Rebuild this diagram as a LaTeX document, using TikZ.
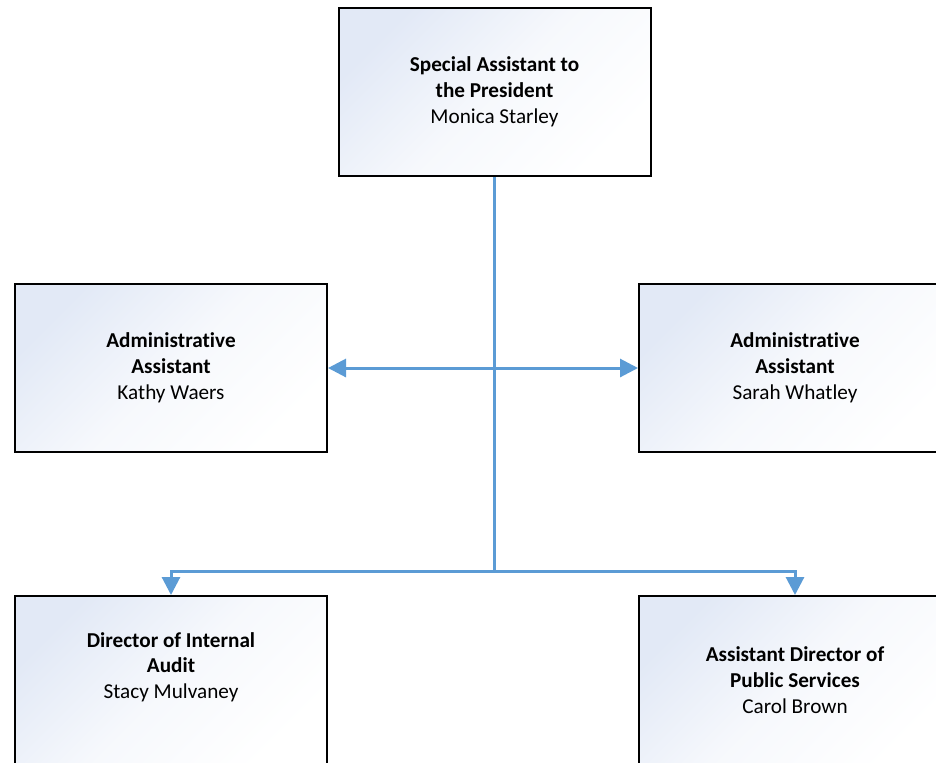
\documentclass[tikz,border=0pt]{standalone}
\usepackage{fontspec}
\setmainfont{Carlito}[RawFeature={-liga;-clig;-calt;-dlig}]
\usetikzlibrary{arrows.meta,positioning}
\definecolor{linkblue}{HTML}{5B9BD5}
\definecolor{boxtint}{HTML}{E2E9F6}

\tikzset{
  post/.style={draw=black, line width=1pt, top color=boxtint, bottom color=white,
    middle color=boxtint!30!white, shading angle=45, minimum width=156pt,
    minimum height=84pt, inner sep=0pt,
    align=center, font=\fontsize{10.6}{12.9}\selectfont},
  link/.style={draw=linkblue, line width=1.5pt},
  tip/.style={-{Triangle[length=9pt,width=9pt]}},
}

\begin{document}
\begin{tikzpicture}[x=0.5pt, y=-0.5pt]
    % Cadre
    \useasboundingbox (0,0) rectangle (936,762);
    \clip (0,0) rectangle (936,762);

    % Postes
    \node[post] (president) at (494.5,92) {\textbf{Special Assistant to}\\\textbf{the President}\\Monica Starley};
    \node[post] (adminL) at (171,368) {\textbf{Administrative}\\\textbf{Assistant}\\Kathy Waers};
    \node[post] (adminR) at (795,368) {\textbf{Administrative}\\\textbf{Assistant}\\Sarah Whatley};
    \node[post, text depth=14.5pt] (auditor) at (171,680) {\textbf{Director of Internal}\\\textbf{Audit}\\Stacy Mulvaney};
    \node[post] (pubsvc) at (795,680) {\textbf{Assistant Director of}\\\textbf{Public Services}\\Carol Brown};

    % Liaisons
    \coordinate (hub) at (494.5,571);
    \draw[link] (president) -- (hub);
    \draw[link, {Triangle[length=9pt,width=9pt]}-{Triangle[length=9pt,width=9pt]}] (adminL) -- (adminR);
    \draw[link, tip] (hub) -| (auditor);
    \draw[link, tip] (hub) -| (pubsvc);
\end{tikzpicture}
\end{document}
